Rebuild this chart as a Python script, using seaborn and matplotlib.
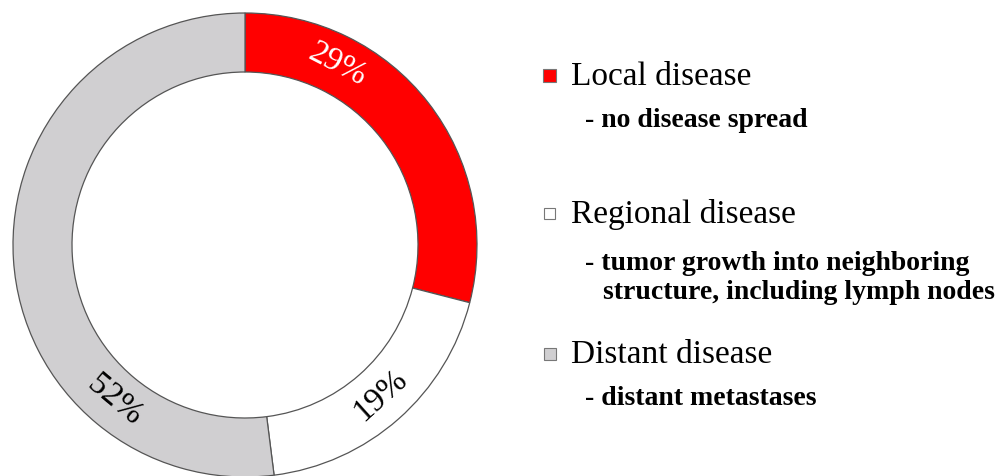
import matplotlib
matplotlib.use("Agg")
import matplotlib.pyplot as plt
from matplotlib.patches import Rectangle
import numpy as np
import seaborn as sns

# ---- data ----
categories = ["Local disease", "Regional disease", "Distant disease"]
shares = [29, 19, 52]
pct_labels = ["29%", "19%", "52%"]
descriptions = [
    ["- no disease spread"],
    ["- tumor growth into neighboring", "structure, including lymph nodes"],
    ["- distant metastases"],
]
colors = ["#ff0000", "#ffffff", "#d0cfd1"]
label_angles = [62.7, -48.0, 230.1]   # degrees, position of the % labels on the ring
label_colors = ["white", "black", "black"]

sns.set_theme(style="white")
plt.rcParams["font.family"] = ["Liberation Serif", "DejaVu Serif"]

W, H = 1003, 476
fig = plt.figure(figsize=(W / 100, H / 100), dpi=100)
fig.patch.set_facecolor("white")

# donut axes: centre at (245, 245) px from top, outer radius 232 px
R = 232
cx, cy = 245, 245
ax = fig.add_axes([(cx - R) / W, (H - cy - R) / H, 2 * R / W, 2 * R / H])
ring_w = 59 / R
ax.pie(shares, colors=colors, startangle=90, counterclock=False, radius=1,
       wedgeprops=dict(width=ring_w, edgecolor="#555555", linewidth=0.9))
ax.set_xlim(-1, 1)
ax.set_ylim(-1, 1)
ax.set_aspect("equal")
ax.axis("off")

rmid = 1 - ring_w / 2
for lab, ang, col in zip(pct_labels, label_angles, label_colors):
    t = np.deg2rad(ang)
    rot = ang - 90 if np.sin(t) > 0 else ang + 90
    rot = (rot + 180) % 360 - 180
    ax.text(rmid * np.cos(t), rmid * np.sin(t), lab, color=col, fontsize=24,
            rotation=rot, ha="center", va="center", rotation_mode="anchor")

# legend overlay in pixel coordinates
ov = fig.add_axes([0, 0, 1, 1])
ov.set_xlim(0, W)
ov.set_ylim(H, 0)
ov.axis("off")

head_base = [85, 223, 363]
sub_base = [[127], [270, 299], [405]]
sq_boxes = [(543, 69, 13), (544, 208, 11), (544, 348, 12)]
for i, cat in enumerate(categories):
    x0, y0, s = sq_boxes[i]
    ov.add_patch(Rectangle((x0, y0), s, s, facecolor=colors[i],
                           edgecolor="#777777", linewidth=0.8))
    ov.text(571, head_base[i], cat, fontsize=24, va="baseline", ha="left",
            color="black")
    for j, (line, yb) in enumerate(zip(descriptions[i], sub_base[i])):
        ov.text(585 if j == 0 else 603, yb, line, fontsize=20, fontweight="bold",
                va="baseline", ha="left", color="black")

fig.savefig("out.png", dpi=100, facecolor="white")
